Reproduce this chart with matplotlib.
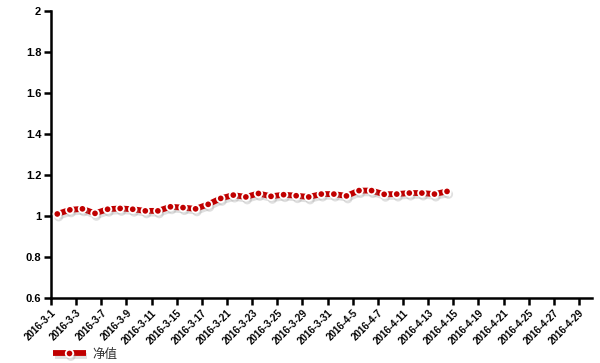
import matplotlib
matplotlib.use("Agg")
import matplotlib.pyplot as plt
import matplotlib.patheffects as pe

dates = ["2016-3-1", "2016-3-2", "2016-3-3", "2016-3-4", "2016-3-7", "2016-3-8", "2016-3-9",
         "2016-3-10", "2016-3-11", "2016-3-14", "2016-3-15", "2016-3-16", "2016-3-17", "2016-3-18",
         "2016-3-21", "2016-3-22", "2016-3-23", "2016-3-24", "2016-3-25", "2016-3-28", "2016-3-29",
         "2016-3-30", "2016-3-31", "2016-4-1", "2016-4-5", "2016-4-6", "2016-4-7", "2016-4-8",
         "2016-4-11", "2016-4-12", "2016-4-13", "2016-4-14", "2016-4-15", "2016-4-18", "2016-4-19",
         "2016-4-20", "2016-4-21", "2016-4-22", "2016-4-25", "2016-4-26", "2016-4-27", "2016-4-28",
         "2016-4-29"]

nav = [1.010, 1.030, 1.035, 1.013, 1.033, 1.037, 1.033, 1.025, 1.025, 1.045,
       1.041, 1.035, 1.057, 1.086, 1.102, 1.093, 1.110, 1.096, 1.104, 1.099,
       1.093, 1.107, 1.107, 1.098, 1.124, 1.124, 1.106, 1.107, 1.112, 1.112,
       1.107, 1.120]

series_name = "净值"
yticks = [0.6, 0.8, 1, 1.2, 1.4, 1.6, 1.8, 2]
ytick_labels = ["0.6", "0.8", "1", "1.2", "1.4", "1.6", "1.8", "2"]

plt.rcParams['font.family'] = ['Liberation Sans', 'Noto Sans CJK SC', 'DejaVu Sans']

fig = plt.figure(figsize=(6, 3.63), dpi=100)
ax = fig.add_axes([0.085, 0.179, 0.901, 0.7907])

red = "#c00000"
xs = list(range(len(nav)))
line, = ax.plot(xs, nav, color=red, lw=4.2, marker="o", ms=5.4, mfc=red, mec="white", mew=1.3,
                solid_joinstyle="round", solid_capstyle="butt", label=series_name, zorder=3)
line.set_path_effects([pe.SimpleLineShadow(offset=(1.0, -2.0), shadow_color="#999999", alpha=0.3),
                       pe.Normal()])

ax.set_xlim(-0.5, len(dates) - 0.5)
ax.set_ylim(0.6, 2.0)
ax.set_yticks(yticks)
ax.set_yticklabels(ytick_labels, fontsize=8, fontweight="bold")

tick_pos = [i - 0.5 for i in range(0, len(dates), 2)]
tick_lab = [dates[i] for i in range(0, len(dates), 2)]
ax.set_xticks(tick_pos)
ax.set_xticklabels(tick_lab, rotation=45, ha="right", rotation_mode="anchor",
                   fontsize=7, fontweight="bold")

for s in ["top", "right"]:
    ax.spines[s].set_visible(False)
for s in ["left", "bottom"]:
    ax.spines[s].set_linewidth(1.8)
ax.tick_params(axis="both", direction="out", length=5, width=1.8, pad=2)

leg = fig.legend(handles=[line], loc="lower left", bbox_to_anchor=(0.07, -0.025),
                 frameon=False, fontsize=9, handlelength=2.6, handletextpad=0.5)
for t in leg.get_texts():
    t.set_family(['Noto Sans CJK SC', 'DejaVu Sans'])
    t.set_color("#333333")

fig.savefig("out.png", dpi=100)
